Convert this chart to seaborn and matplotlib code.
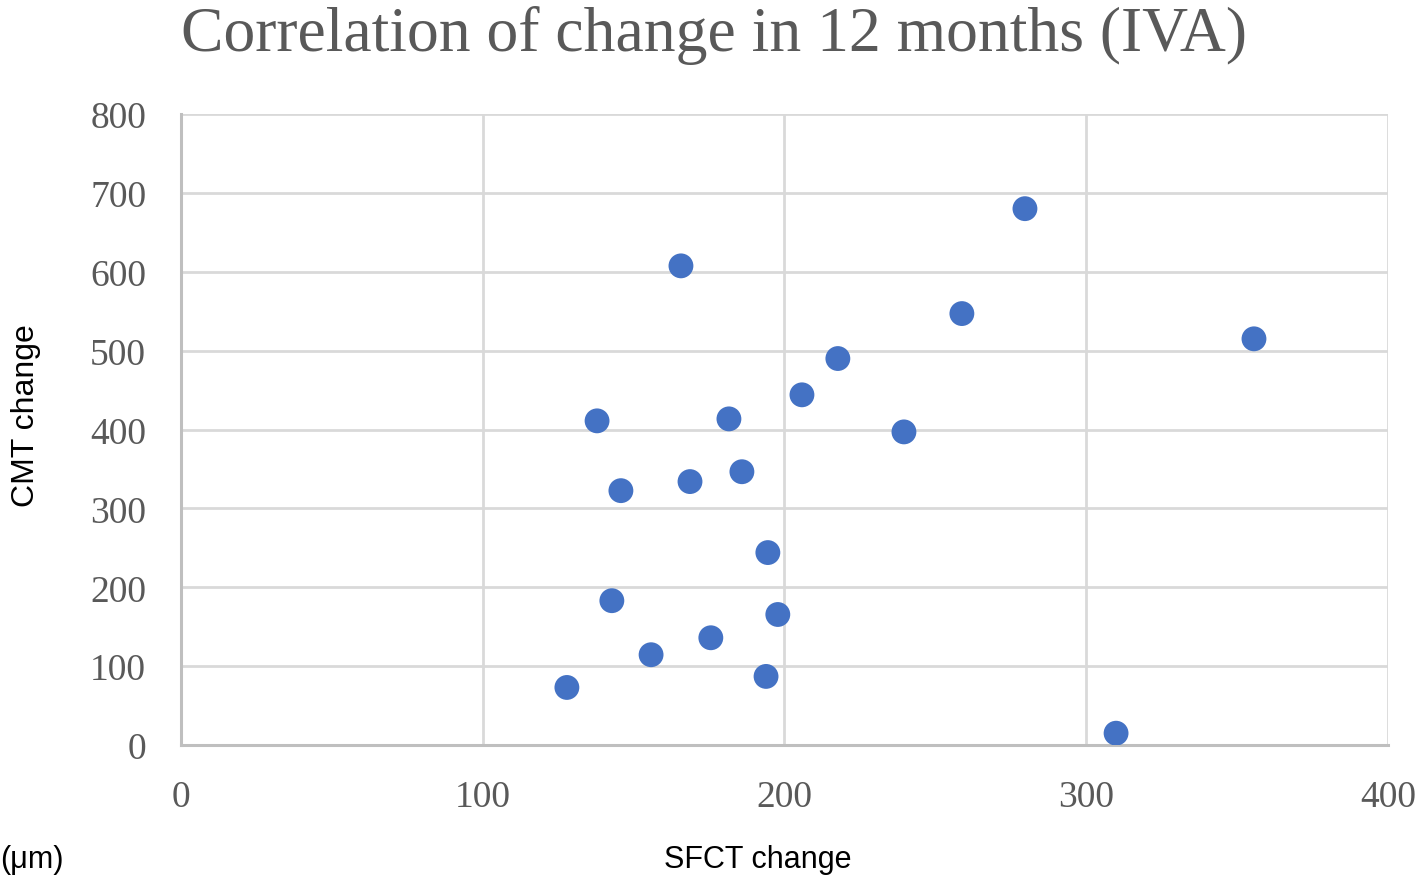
import pandas as pd
import matplotlib.pyplot as plt
import seaborn as sns

# data (SFCT change vs CMT change, µm)
sfct_change = [127.9, 137.9, 142.8, 145.8, 155.8, 165.7, 168.7, 175.6, 181.6, 185.9,
               193.9, 194.5, 197.8, 205.8, 217.7, 239.6, 258.8, 279.7, 309.9, 355.6]
cmt_change = [73.0, 411.0, 183.0, 322.5, 114.5, 607.5, 334.0, 136.0, 413.5, 346.5,
              87.0, 244.0, 165.5, 444.0, 490.0, 397.0, 547.0, 680.0, 15.0, 515.0]

x_ticks = [0, 100, 200, 300, 400]
y_ticks = [0, 100, 200, 300, 400, 500, 600, 700, 800]

df = pd.DataFrame({"SFCT": sfct_change, "CMT": cmt_change})

sns.set_style("white")
plt.rcParams['font.family'] = ['Liberation Serif', 'DejaVu Serif']

fig = plt.figure(figsize=(14.17, 8.78), dpi=100)
ax = fig.add_axes([0.1277, 0.1503, 0.8518, 0.7187])

sns.scatterplot(data=df, x="SFCT", y="CMT", ax=ax, color="#4472C4",
                s=320, edgecolor="none", zorder=3)

ax.set_xlim(0, 400)
ax.set_ylim(0, 800)
ax.set_xticks(x_ticks)
ax.set_yticks(y_ticks)
ax.grid(True, color="#d9d9d9", linewidth=2)
ax.set_axisbelow(True)
for side in ["top", "right"]:
    ax.spines[side].set_visible(False)
for side in ["left", "bottom"]:
    ax.spines[side].set_color("#bfbfbf")
    ax.spines[side].set_linewidth(2.2)

ax.tick_params(axis="both", length=0, labelsize=27, colors="#595959")
ax.tick_params(axis="x", pad=25)
ax.tick_params(axis="y", pad=25)
ax.set_xlabel("")
ax.set_ylabel("")

sans = ["Liberation Sans", "DejaVu Sans"]
fig.text(0.504, 0.942, "Correlation of change in 12 months (IVA)", ha="center", va="baseline",
         fontsize=45.8, color="#595959")
fig.text(0.535, 0.0205, "SFCT change", ha="center", va="center",
         fontsize=22, family=sans, color="black")
fig.text(0.0, 0.0205, "(μm)", ha="left", va="center",
         fontsize=22, family=sans, color="black")
fig.text(0.018, 0.527, "CMT change", ha="center", va="center", rotation=90,
         fontsize=23, family=sans, color="black")

fig.savefig("out.png", dpi=100)
